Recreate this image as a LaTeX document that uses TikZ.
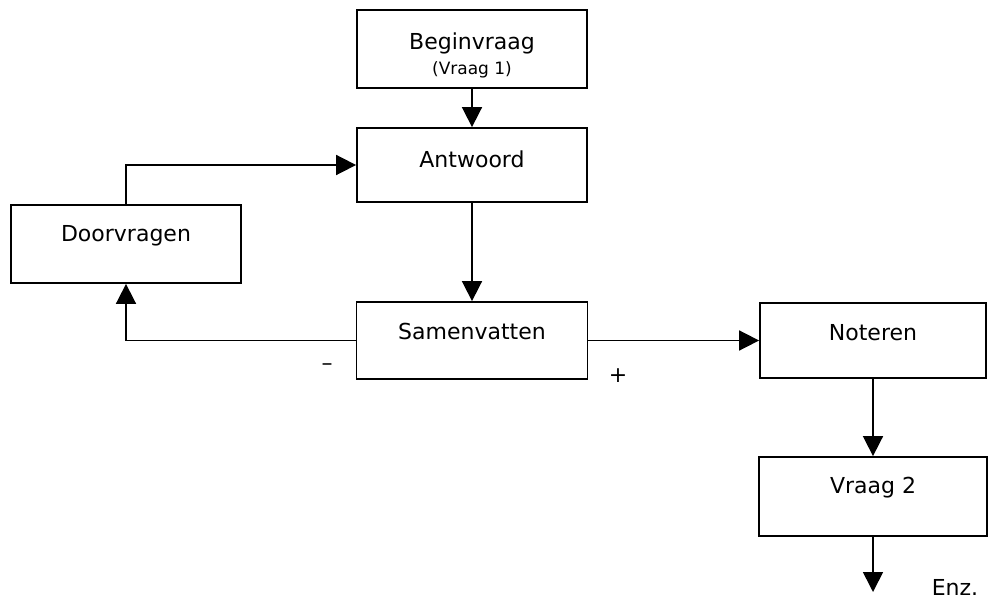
\documentclass[tikz,border=0pt]{standalone}
\usepackage{fontspec}
\setmainfont{DejaVu Sans}
\usetikzlibrary{arrows.meta}
\begin{document}
\begin{tikzpicture}[x=1pt,y=-1pt,
  box/.style={draw, line width=1.8pt, inner xsep=0pt, inner ysep=0pt,
    font=\fontsize{22}{26}\selectfont},
  flow/.style={line width=1.7pt, -{Triangle[length=20pt,width=20pt]}},
  sign/.style={font=\fontsize{22}{26}\selectfont, inner sep=0pt, anchor=base}]
\useasboundingbox (0,0) rectangle (990,612);

% process boxes (text height/depth place the label in the upper part)
\node[box, minimum width=230pt, text height=40pt, text depth=38pt] (begin) at (472,49) {Beginvraag};
\node[sign, font=\fontsize{17}{20}\selectfont] (beginsub) at (472,75) {(Vraag 1)};
\node[box, minimum width=230pt, text height=40pt, text depth=34pt] (antw) at (472,165) {Antwoord};
\node[box, minimum width=230pt, text height=37pt, text depth=41pt] (door) at (126,244) {Doorvragen};
\node[box, minimum width=231pt, text height=37pt, text depth=40pt] (samen) at (472,340.5) {Samenvatten};
\node[box, minimum width=226pt, text height=37pt, text depth=38pt] (noter) at (873,340.5) {Noteren};
\node[box, minimum width=228pt, text height=36pt, text depth=43pt] (vraag2) at (873,496.5) {Vraag 2};

% connectors
\draw[flow] (begin.south) -- (antw.north);
\draw[flow] (antw.south) -- (samen.north);
\draw[flow] (samen.west) -| (door.south);
\draw[flow] (door.north) |- (antw.west);
\draw[flow] (samen.east) -- (noter.west);
\draw[flow] (noter.south) -- (vraag2.north);
\coordinate (end) at (873,592);
\draw[flow] (vraag2.south) -- (end);

% branch signs and continuation
\node[sign] (minus) at (327,370) {–};
\node[sign] (plus) at (618,382) {+};
\node[sign] (enz) at (955,595) {Enz.};
\end{tikzpicture}
\end{document}
